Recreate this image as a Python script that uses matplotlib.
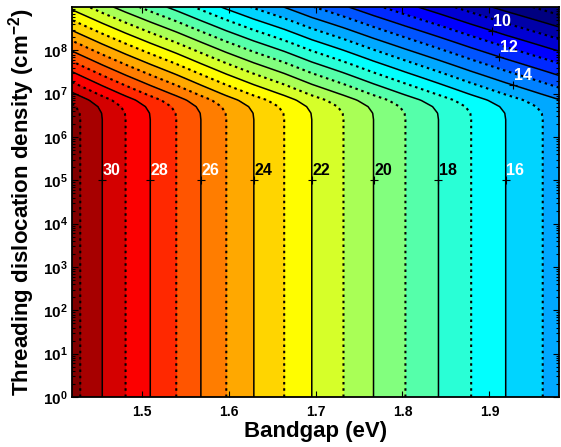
import numpy as np
import matplotlib
matplotlib.use('Agg')
import matplotlib.pyplot as plt
from matplotlib.colors import Normalize, ListedColormap
from matplotlib.ticker import FixedLocator, FuncFormatter, LogLocator, NullFormatter

plt.rcParams['font.family'] = ['Liberation Sans', 'DejaVu Sans']
plt.rcParams['font.weight'] = 'bold'
plt.rcParams['mathtext.fontset'] = 'custom'
plt.rcParams['mathtext.rm'] = 'Liberation Sans:bold'
plt.rcParams['mathtext.bf'] = 'Liberation Sans:bold'
plt.rcParams['mathtext.it'] = 'Liberation Sans:bold:italic'

# efficiency (%) at low dislocation density, read where each contour is vertical
bandgap_pts = [1.42, 1.4295, 1.4548, 1.4816, 1.5100, 1.5399, 1.5682, 1.5974, 1.6291,
               1.6640, 1.6957, 1.7322, 1.7667, 1.8034, 1.8414, 1.8790, 1.9187, 1.9613, 1.98]
eff_pts = [31.38, 31, 30, 29, 28, 27, 26, 25, 24, 23, 22, 21, 20, 19, 18, 17, 16, 15, 14.56]

# efficiency loss (abs. %) vs log10(TDD), read along the left edge (Eg = 1.42 eV)
logtdd_pts = [0, 6.4, 6.55, 6.7, 6.85, 7.0, 7.25, 7.5, 7.75, 8.0, 8.25, 8.5, 8.75, 9.0]
loss_pts = [0, 0, 0.03, 0.2, 0.6, 1.25, 2.3, 3.35, 4.4, 5.45, 6.5, 7.55, 8.6, 9.65]

# the loss is a bit smaller at wide bandgap
loss_scale_eg = [1.42, 1.98]
loss_scale = [1.0, 0.85]

# contour labels: level, rough spot (Eg, log10 TDD), text colour
label_levels = [30, 28, 26, 24, 22, 20, 18, 16, 14, 12, 10]
label_spots = [(1.4548, 5), (1.5100, 5), (1.5682, 5), (1.6291, 5), (1.6957, 5),
               (1.7667, 5), (1.8414, 5), (1.9187, 5), (1.9265, 7.2), (1.9093, 7.8),
               (1.9024, 8.45)]
label_colors = ['w', 'w', 'w', 'k', 'k', 'k', 'k', 'w', 'w', 'w', 'w']

# matlab style jet
t = np.linspace(0, 1, 256)
jet_rgb = np.clip(np.stack([np.minimum(4 * t - 1.5, 4.5 - 4 * t),
                            np.minimum(4 * t - 0.5, 3.5 - 4 * t),
                            np.minimum(4 * t + 0.5, 2.5 - 4 * t)], axis=1), 0, 1)
mjet = ListedColormap(jet_rgb)

# build the efficiency map
eg = np.linspace(1.42, 1.98, 561)
lg = np.linspace(0, 9, 451)
eff0 = np.interp(eg, bandgap_pts, eff_pts)
loss = np.interp(lg, logtdd_pts, loss_pts)
scale = np.interp(eg, loss_scale_eg, loss_scale)
Z = eff0[None, :] - loss[:, None] * scale[None, :]
N = 10.0 ** lg

fig = plt.figure(figsize=(5.61, 4.47), dpi=100)
ax = fig.add_axes([72 / 561, 50 / 447, 487 / 561, 390 / 447])

ax.contourf(eg, N, Z, levels=np.arange(6, 33), cmap=mjet, norm=Normalize(7.5, 31.5))
even = list(range(8, 32, 2))
odd = list(range(7, 32, 2))
cs = ax.contour(eg, N, Z, levels=even, colors='k', linewidths=1.1)
ax.contour(eg, N, Z, levels=odd, colors='k', linewidths=1.5,
           linestyles=[(0, (1.2, 1.8))])

ax.set_yscale('log')
ax.set_xlim(1.42, 1.98)
ax.set_ylim(1, 1e9)

# labels with '+' markers snapped onto the solid contours
paths = cs.get_paths()
for lv, (sx, sy), col in zip(label_levels, label_spots, label_colors):
    v = paths[even.index(lv)].vertices
    d = ((v[:, 0] - sx) / 0.56) ** 2 + ((np.log10(v[:, 1]) - sy) / 9) ** 2
    px, py = v[np.argmin(d)]
    ax.plot(px, py, '+', color='k', ms=6, mew=0.8)
    ax.annotate(str(lv), (px, py), xytext=(0.5, 1.5), textcoords='offset points',
                ha='left', va='bottom', fontsize=11.5, fontweight='bold', color=col)

ax.xaxis.set_major_locator(FixedLocator([1.5, 1.6, 1.7, 1.8, 1.9]))
ax.xaxis.set_major_formatter(FuncFormatter(lambda v, p: '%.1f' % v))
ax.yaxis.set_major_locator(FixedLocator(10.0 ** np.arange(0, 9)))
ax.yaxis.set_major_formatter(FuncFormatter(lambda v, p: r'$\mathbf{10^{%d}}$' % round(np.log10(v))))
ax.yaxis.set_minor_locator(LogLocator(base=10, subs=np.arange(2, 10), numticks=20))
ax.yaxis.set_minor_formatter(NullFormatter())

ax.tick_params(which='both', direction='in', top=True, right=True, width=0.8)
ax.tick_params(which='major', length=4)
ax.tick_params(which='minor', length=2)
ax.tick_params(axis='x', labelsize=10, pad=6)
ax.tick_params(axis='y', labelsize=11, pad=3)
for s in ax.spines.values():
    s.set_linewidth(1.3)

ax.set_xlabel('Bandgap (eV)', fontsize=16, fontweight='bold', labelpad=1)
ax.set_ylabel('Threading dislocation density (cm$^{\\mathbf{\u22122}}$)', fontsize=16,
              fontweight='bold', labelpad=4)

fig.savefig('out.png', dpi=100)
